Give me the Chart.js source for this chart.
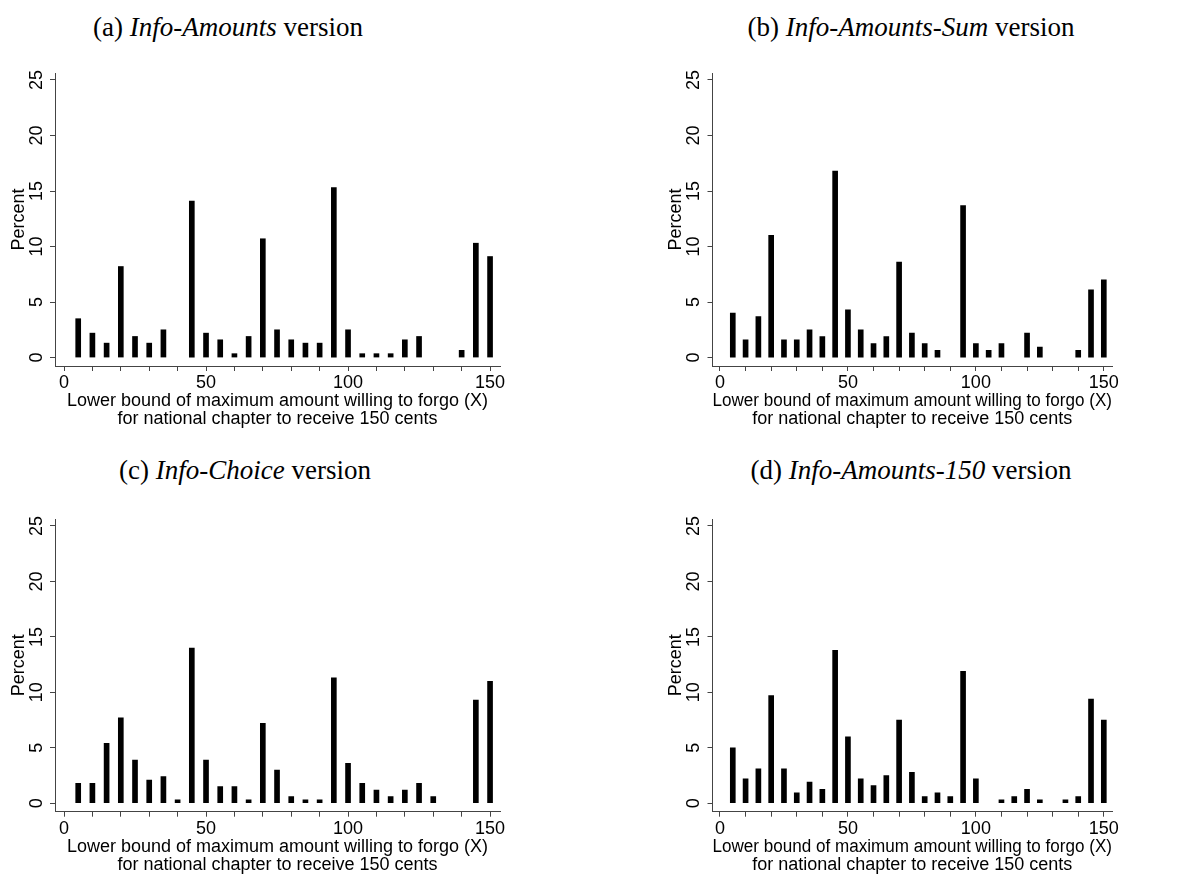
<!DOCTYPE html>
<html>
<head>
<meta charset="utf-8">
<script src="https://cdn.jsdelivr.net/npm/chart.js@4.4.1/dist/chart.umd.min.js"></script>
<style>
  body { margin: 0; background: #fff; width: 1203px; height: 880px; position: relative; overflow: hidden; }
  canvas { position: absolute; }
  .cap { position: absolute; transform: translate(-50%, -50%); font-family: "Liberation Serif", "DejaVu Serif", serif;
         font-size: 27px; white-space: nowrap; color: #000; }
</style>
</head>
<body>
<div class="cap" style="left:228px; top:27px">(a) <i>Info-Amounts</i> version</div>
<div class="cap" style="left:911px; top:27px">(b) <i>Info-Amounts-Sum</i> version</div>
<div class="cap" style="left:245px; top:470px">(c) <i>Info-Choice</i> version</div>
<div class="cap" style="left:911px; top:470px">(d) <i>Info-Amounts-150</i> version</div>

<canvas id="chartA"></canvas>
<canvas id="chartB"></canvas>
<canvas id="chartC"></canvas>
<canvas id="chartD"></canvas>

<script>
// lower bound of max amount willing to forgo (X), cents
var amounts = [5, 10, 15, 20, 25, 30, 35, 40, 45, 50, 55, 60, 65, 70, 75,
               80, 85, 90, 95, 100, 105, 110, 115, 120, 125, 130, 135, 140, 145, 150];

// percent of subjects, one array per version
var pctInfoAmounts    = [3.5, 2.2, 1.3, 8.2, 1.9, 1.3, 2.5, 0, 14.1, 2.2, 1.6, 0.35, 1.9, 10.7, 2.5,
                         1.6, 1.3, 1.3, 15.3, 2.5, 0.35, 0.35, 0.35, 1.6, 1.9, 0, 0, 0.65, 10.3, 9.1];
var pctInfoAmountsSum = [4.0, 1.6, 3.7, 11.0, 1.6, 1.6, 2.5, 1.9, 16.8, 4.3, 2.5, 1.25, 1.9, 8.6, 2.2,
                         1.25, 0.65, 0, 13.7, 1.25, 0.65, 1.25, 0, 2.2, 0.95, 0, 0, 0.65, 6.1, 7.0];
var pctInfoChoice     = [1.8, 1.8, 5.4, 7.7, 3.9, 2.1, 2.4, 0.3, 14.0, 3.9, 1.5, 1.5, 0.3, 7.2, 3.0,
                         0.6, 0.3, 0.3, 11.3, 3.6, 1.8, 1.2, 0.6, 1.2, 1.8, 0.6, 0, 0, 9.3, 11.0];
var pctInfoAmounts150 = [5.0, 2.2, 3.1, 9.7, 3.1, 0.95, 1.9, 1.25, 13.8, 6.0, 2.2, 1.6, 2.5, 7.5, 2.8,
                         0.6, 0.95, 0.6, 11.9, 2.2, 0, 0.3, 0.6, 1.25, 0.3, 0, 0.3, 0.6, 9.4, 7.5];

var yTicks = [0, 5, 10, 15, 20, 25];
var xTicks = [0, 10, 20, 30, 40, 50, 60, 70, 80, 90, 100, 110, 120, 130, 140, 150];
var xLabeled = [0, 50, 100, 150];
var yTitle = 'Percent';
var xTitle = ['Lower bound of maximum amount willing to forgo (X)', 'for national chapter to receive 150 cents'];

var FONT = '"Liberation Sans", Arial, Helvetica, sans-serif';
var AXIS = '#444';
var Y_AXIS_W = 47;
var X_AXIS_H = 62;

// canvas box and wanted plot area, in page pixels
function makePanel(id, values, box, area, xRange) {
  var cv = document.getElementById(id);
  cv.style.left = box.left + 'px';
  cv.style.top = box.top + 'px';
  cv.width = box.width;
  cv.height = box.height;

  // empty categories get no bar at all (a 0 bar still leaves a hairline)
  var pts = amounts.map(function (a, i) { return { x: a, y: values[i] === 0 ? null : values[i] }; });

  return new Chart(cv, {
    type: 'bar',
    data: {
      datasets: [{
        data: pts,
        backgroundColor: '#000',
        borderWidth: 0,
        barThickness: 5
      }]
    },
    options: {
      responsive: false,
      animation: false,
      events: [],
      layout: {
        padding: {
          left: area.left - Y_AXIS_W - box.left,
          right: box.left + box.width - area.right,
          top: area.top - box.top,
          bottom: box.top + box.height - area.bottom - X_AXIS_H
        }
      },
      plugins: { legend: { display: false }, tooltip: { enabled: false } },
      scales: {
        x: {
          type: 'linear',
          min: xRange[0],
          max: xRange[1],
          offset: false,
          grid: { display: true, drawOnChartArea: false, drawTicks: true, tickLength: 5, color: AXIS, offset: false },
          border: { display: true, color: AXIS, width: 1 },
          afterBuildTicks: function (s) { s.ticks = xTicks.map(function (v) { return { value: v }; }); },
          afterFit: function (s) { s.height = X_AXIS_H; },
          ticks: {
            autoSkip: false, maxRotation: 0, padding: 3, color: '#000',
            font: { family: FONT, size: 18, lineHeight: 1 },
            callback: function (v) { return xLabeled.indexOf(v) >= 0 ? String(v) : ''; }
          },
          title: {
            display: true, text: xTitle, color: '#000',
            font: { family: FONT, size: 18, lineHeight: 1 },
            padding: { top: 0, bottom: 0 }
          }
        },
        y: {
          min: -0.76,
          max: 25.63,
          grid: { display: true, drawOnChartArea: false, drawTicks: true, tickLength: 5, color: AXIS },
          border: { display: true, color: AXIS, width: 1 },
          afterBuildTicks: function (s) { s.ticks = yTicks.map(function (v) { return { value: v }; }); },
          afterFit: function (s) { s.width = Y_AXIS_W; },
          ticks: {
            minRotation: 90, maxRotation: 90, crossAlign: 'center', padding: 3, color: '#000',
            font: { family: FONT, size: 18, lineHeight: 1 }
          },
          title: {
            display: true, text: yTitle, color: '#000',
            font: { family: FONT, size: 18, lineHeight: 1.2 },
            padding: 0
          }
        }
      }
    }
  });
}

makePanel('chartA', pctInfoAmounts,
  { left: 0, top: 40, width: 540, height: 388 },
  { left: 55, right: 500, top: 73, bottom: 366 }, [-3.17, 153.5]);
makePanel('chartB', pctInfoAmountsSum,
  { left: 640, top: 40, width: 563, height: 388 },
  { left: 712.5, right: 1112, top: 73, bottom: 366 }, [-2.93, 153.2]);
makePanel('chartC', pctInfoChoice,
  { left: 0, top: 485, width: 540, height: 389 },
  { left: 55, right: 500, top: 519, bottom: 811.7 }, [-3.17, 153.5]);
makePanel('chartD', pctInfoAmounts150,
  { left: 640, top: 485, width: 563, height: 389 },
  { left: 712.5, right: 1112, top: 519, bottom: 811.7 }, [-2.93, 153.2]);
</script>
</body>
</html>
